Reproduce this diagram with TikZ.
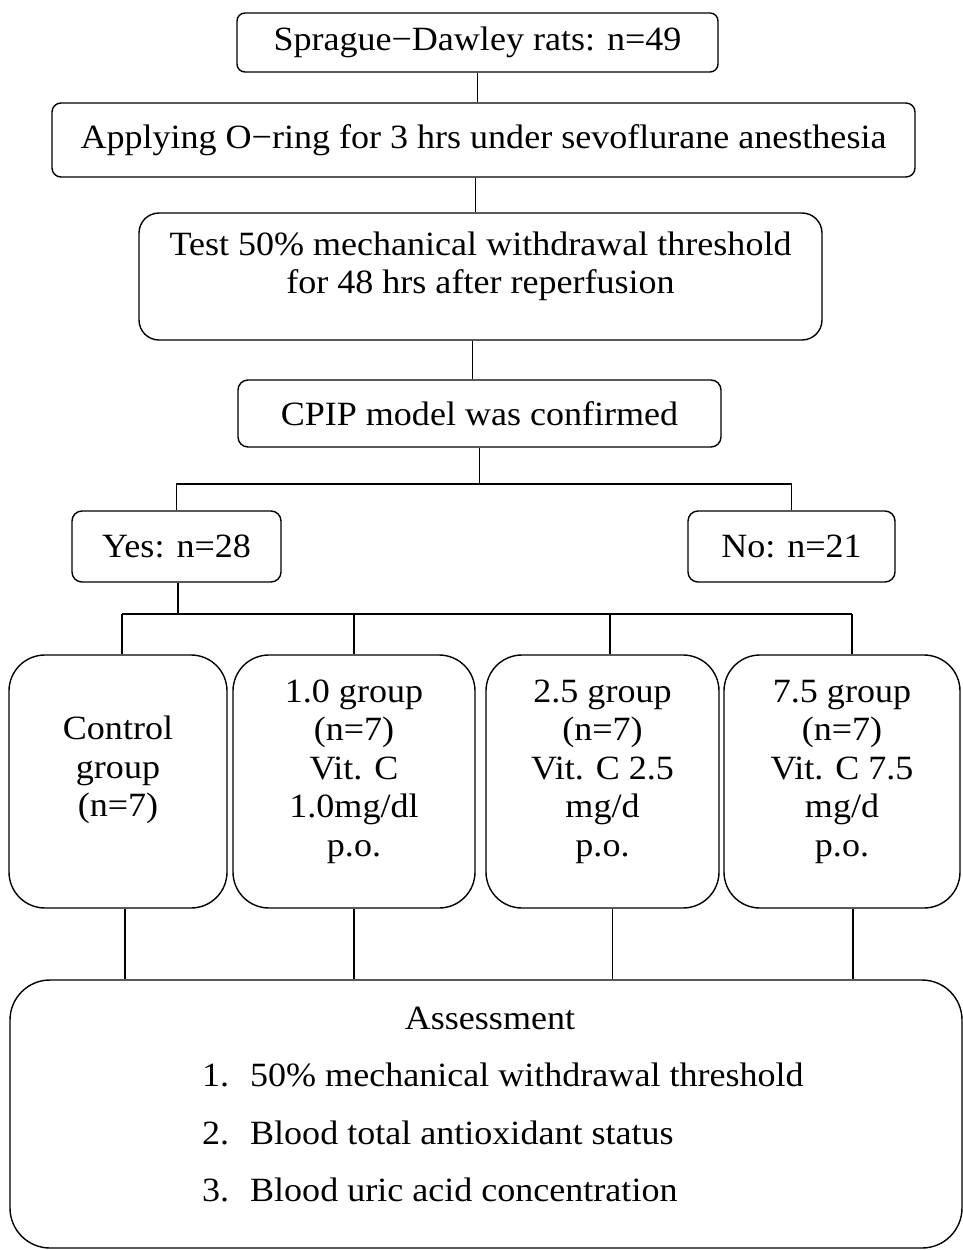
\documentclass[tikz,border=0pt]{standalone}
\usepackage{fontspec}
\setmainfont[FakeStretch=1.06]{Liberation Serif}
\usetikzlibrary{calc}
\newcommand{\fs}{\fontsize{34}{38.5}\selectfont}
\begin{document}
\begin{tikzpicture}[x=1pt,y=-1pt,
  box/.style={draw,line width=1.4pt,inner sep=0pt,align=center,font=\fs},
  txt/.style={inner sep=0pt,align=center,font=\fs},
  ln/.style={line width=1.1pt},
  bus/.style={line width=1.5pt}]
\useasboundingbox (0,0) rectangle (963,1250);
% boxes
\node[box,rounded corners=8pt,minimum width=481pt,minimum height=59pt] (rats) at (477.5,42.5) {Sprague−Dawley rats: n=49};
\node[box,rounded corners=9pt,minimum width=863pt,minimum height=74pt] (ring) at (483.5,140) {Applying O−ring for 3 hrs under sevoflurane anesthesia};
\node[box,rounded corners=20pt,minimum width=683pt,minimum height=127pt] (test) at (480.5,276.5) {};
\node[txt] (testtxt) at (480.5,266.5) {Test 50\% mechanical withdrawal threshold\\for 48 hrs after reperfusion};
\node[box,rounded corners=10pt,minimum width=483pt,minimum height=67pt] (cpip) at (479.5,413.5) {CPIP model was confirmed};
\node[box,rounded corners=10pt,minimum width=209pt,minimum height=71pt] (yes) at (176.5,546.5) {Yes: n=28};
\node[box,rounded corners=10pt,minimum width=207pt,minimum height=71pt] (no) at (791.5,546.5) {No: n=21};
% group boxes
\node[box,rounded corners=36pt,minimum width=218pt,minimum height=253pt] (ctrl) at (118,781.5) {};
\node[box,rounded corners=36pt,minimum width=242pt,minimum height=253pt] (g1) at (354,781.5) {};
\node[box,rounded corners=36pt,minimum width=233pt,minimum height=253pt] (g2) at (602.5,781.5) {};
\node[box,rounded corners=36pt,minimum width=236pt,minimum height=253pt] (g3) at (842,781.5) {};
\node[txt] (ctrltxt) at (118,770) {Control\\group\\(n=7)};
\node[txt] (g1txt) at (354,771.5) {1.0 group\\(n=7)\\Vit. C\\1.0mg/dl\\p.o.};
\node[txt] (g2txt) at (602.5,771.5) {2.5 group\\(n=7)\\Vit. C 2.5\\mg/d\\p.o.};
\node[txt] (g3txt) at (842,771.5) {7.5 group\\(n=7)\\Vit. C 7.5\\mg/d\\p.o.};
% assessment
\node[box,rounded corners=40pt,minimum width=952pt,minimum height=268pt] (assess) at (486,1114) {};
\node[txt] (asst) at (490,1018) {Assessment};
\node[txt,anchor=west] (a1) at (202,1075) {\makebox[48pt][l]{1.}50\% mechanical withdrawal threshold};
\node[txt,anchor=west] (a2) at (202,1133) {\makebox[48pt][l]{2.}Blood total antioxidant status};
\node[txt,anchor=west] (a3) at (202,1190) {\makebox[48pt][l]{3.}Blood uric acid concentration};
% connectors
\draw[ln] (rats.south) -- (rats.south |- ring.north);
\coordinate (r2) at ($(ring.south)+(-8,0)$);
\draw[ln] (r2) -- (r2 |- test.north);
\coordinate (t2) at ($(test.south)+(-8,0)$);
\draw[ln] (t2) -- (t2 |- cpip.north);
\coordinate (j1) at (cpip.south |- 0,484);
\draw[ln] (cpip.south) -- (j1);
\draw[bus] (yes.north) |- (j1) -| (no.north);
\coordinate (j2) at ($(yes.south)+(1.5,32)$);
\draw[ln] (yes.south -| j2) -- (j2);
\coordinate (b1) at (122,614);
\coordinate (b2) at (354,614);
\coordinate (b3) at (610,614);
\coordinate (b4) at (852,614);
\draw[bus] (b1) -- (b4);
\draw[ln] (b1) -- (b1 |- ctrl.north);
\draw[ln] (b2) -- (b2 |- g1.north);
\draw[ln] (b3) -- (b3 |- g2.north);
\draw[ln] (b4) -- (b4 |- g3.north);
\coordinate (d1) at ($(ctrl.south)+(7,0)$);
\coordinate (d2) at (g1.south);
\coordinate (d3) at ($(g2.south)+(10,0)$);
\coordinate (d4) at ($(g3.south)+(11,0)$);
\draw[ln] (d1) -- (d1 |- assess.north);
\draw[ln] (d2) -- (d2 |- assess.north);
\draw[ln] (d3) -- (d3 |- assess.north);
\draw[ln] (d4) -- (d4 |- assess.north);
\end{tikzpicture}
\end{document}
